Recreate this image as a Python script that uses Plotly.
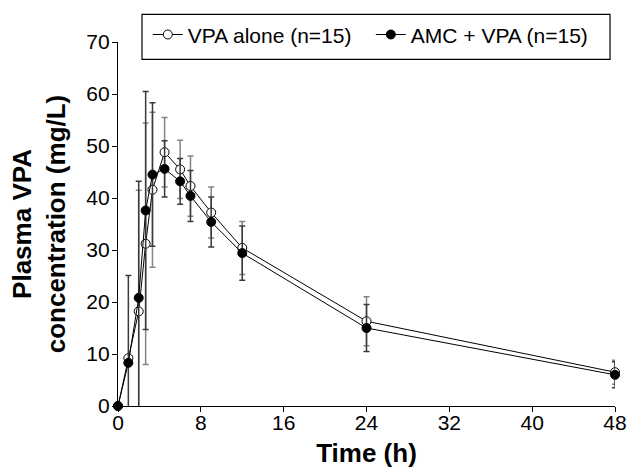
import plotly.graph_objects as go

time_h = [0, 1, 2, 2.67, 3.33, 4.5, 6, 7, 9, 12, 24, 48]
vpa_alone_mean = [0, 9.2, 18.2, 31.2, 41.6, 48.8, 45.5, 42.3, 37.2, 30.4, 16.3, 6.5]
vpa_alone_sd = [0, 0.0, 23.3, 23.2, 14.9, 6.7, 5.6, 5.8, 4.9, 5.1, 4.7, 2.3]
amc_vpa_mean = [0, 8.3, 20.8, 37.6, 44.5, 45.6, 43.2, 40.4, 35.4, 29.4, 15.0, 6.0]
amc_vpa_sd = [0, 16.8, 22.4, 22.9, 13.8, 5.4, 4.4, 4.9, 4.8, 5.2, 4.5, 2.5]

x_ticks = [0, 8, 16, 24, 32, 40, 48]
y_ticks = [0, 10, 20, 30, 40, 50, 60, 70]

FONT = "Arial, Liberation Sans, sans-serif"

fig = go.Figure()
fig.add_trace(go.Scatter(
    x=time_h, y=vpa_alone_mean, name="VPA alone (n=15)",
    mode="lines+markers",
    line=dict(color="black", width=1),
    marker=dict(symbol="circle", size=9, color="white", line=dict(color="black", width=1)),
    error_y=dict(type="data", array=vpa_alone_sd, visible=True, color="#858585", thickness=1.5, width=3),
    cliponaxis=False,
))
fig.add_trace(go.Scatter(
    x=time_h, y=amc_vpa_mean, name="AMC + VPA (n=15)",
    mode="lines+markers",
    line=dict(color="black", width=1),
    marker=dict(symbol="circle", size=9, color="black", line=dict(color="black", width=1)),
    error_y=dict(type="data", array=amc_vpa_sd, visible=True, color="#3a3a3a", thickness=1.5, width=3),
    cliponaxis=False,
))

# legend frame
fig.add_shape(type="rect", xref="paper", yref="paper",
              x0=0.0483, x1=0.990, y0=0.9525, y1=1.076,
              line=dict(color="black", width=1.2), fillcolor="rgba(0,0,0,0)", layer="above")

fig.update_layout(
    template="none",
    width=628, height=468,
    margin=dict(l=118, r=13, t=42, b=62, autoexpand=False),
    paper_bgcolor="white", plot_bgcolor="white",
    font=dict(family=FONT, size=21, color="black"),
    showlegend=True,
    legend=dict(
        orientation="h", x=0.060, y=1.076, xanchor="left", yanchor="top",
        borderwidth=0, bgcolor="rgba(0,0,0,0)",
        font=dict(family=FONT, size=21, color="black"),
        itemwidth=30, tracegroupgap=0, entrywidth=178,
    ),
    xaxis=dict(
        range=[0, 48], tickvals=x_ticks, ticks="outside", ticklen=5, tickwidth=1.2,
        tickcolor="black", showline=True, linecolor="black", linewidth=1.4,
        showgrid=False, zeroline=False, automargin=False, ticklabelstandoff=-7,
        title=dict(text="<b>Time (h)</b>", font=dict(family=FONT, size=26), standoff=15),
        tickfont=dict(family=FONT, size=21),
    ),
    yaxis=dict(
        range=[0, 70], tickvals=y_ticks, ticks="outside", ticklen=5, tickwidth=1.2,
        tickcolor="black", showline=True, linecolor="black", linewidth=1.4,
        showgrid=False, zeroline=False, automargin=False, ticklabelstandoff=-2,
        title=dict(text="<b>Plasma VPA<br>concentration (mg/L)</b>", font=dict(family=FONT, size=26), standoff=13),
        tickfont=dict(family=FONT, size=21),
    ),
)

fig.write_html("out.html", config={"displayModeBar": False},
               post_script="document.body.style.margin='0px';document.body.style.overflow='hidden';")
